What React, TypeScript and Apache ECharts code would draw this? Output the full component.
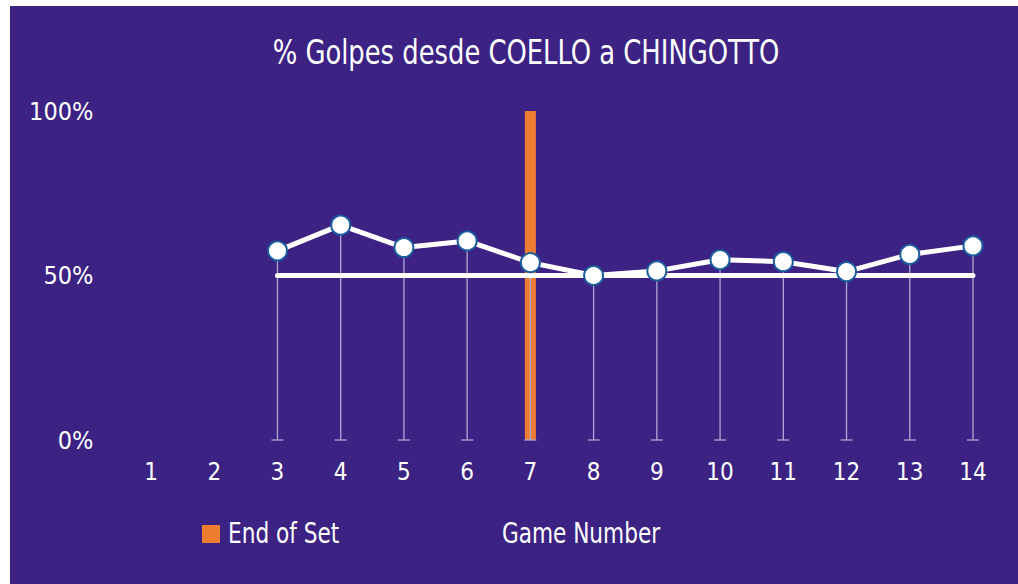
import React, { useEffect, useRef } from "react";
import * as echarts from "echarts";

const FONT = "'Liberation Sans Narrow', 'DejaVu Sans Condensed', 'Liberation Sans', sans-serif";

const games = ["1", "2", "3", "4", "5", "6", "7", "8", "9", "10", "11", "12", "13", "14"];
const pctCoelloToChingotto: (number | string)[] = ["-", "-", 57.5, 65.3, 58.5, 60.5, 53.9, 50.0, 51.4, 54.8, 54.2, 51.2, 56.4, 59.0];
const referenceLine: (number | string)[] = ["-", "-", 50, 50, 50, 50, 50, 50, 50, 50, 50, 50, 50, 50];
const endOfSet: (number | string)[] = ["-", "-", "-", "-", "-", "-", 100, "-", "-", "-", "-", "-", "-", "-"];
const yTicks = [0, 50, 100];

export default function App() {
  const ref = useRef<HTMLDivElement>(null);
  useEffect(() => {
    if (!ref.current) return;
    const chart = echarts.init(ref.current, undefined, { renderer: "svg" });
    const dropData = pctCoelloToChingotto
      .map((v, i) => (typeof v === "number" ? [i, v] : null))
      .filter((d) => d !== null);
    chart.setOption({
      animation: false,
      backgroundColor: "#3b2283",
      textStyle: { fontFamily: FONT },
      grid: { left: 109.4, right: 13.4, top: 105, bottom: 144, containLabel: false },
      graphic: [
        {
          type: "text",
          x: 516,
          y: 46,
          scaleX: 0.87,
          style: {
            text: "% Golpes desde COELLO a CHINGOTTO",
            fill: "#ffffff",
            fontSize: 33,
            fontFamily: FONT,
            align: "center",
            verticalAlign: "middle",
          },
        },
        {
          type: "text",
          x: 571,
          y: 527,
          scaleX: 0.83,
          style: {
            text: "Game Number",
            fill: "#ffffff",
            fontSize: 29,
            fontFamily: FONT,
            align: "center",
            verticalAlign: "middle",
          },
        },
        {
          type: "rect",
          shape: { x: 192, y: 519, width: 18, height: 18 },
          style: { fill: "#ed7d31" },
        },
        {
          type: "text",
          x: 218,
          y: 527,
          scaleX: 0.83,
          style: {
            text: "End of Set",
            fill: "#ffffff",
            fontSize: 29,
            fontFamily: FONT,
            align: "left",
            verticalAlign: "middle",
          },
        },
      ],
      xAxis: {
        type: "category",
        data: games,
        boundaryGap: true,
        axisLine: { show: false },
        axisTick: { show: false },
        splitLine: { show: false },
        axisLabel: { color: "#ffffff", fontSize: 24, fontFamily: FONT, margin: 20 },
      },
      yAxis: {
        type: "value",
        min: yTicks[0],
        max: yTicks[yTicks.length - 1],
        interval: 50,
        axisLine: { show: false },
        axisTick: { show: false },
        splitLine: { show: false },
        axisLabel: {
          color: "#ffffff",
          fontSize: 25,
          fontFamily: FONT,
          margin: 26,
          formatter: (v: number) => v + "%",
        },
      },
      series: [
        {
          name: "End of Set",
          type: "bar",
          data: endOfSet,
          barWidth: 11,
          itemStyle: { color: "#ed7d31" },
          z: 1,
        },
        {
          name: "drop",
          type: "custom",
          data: dropData,
          z: 2,
          renderItem: (params: any, api: any) => {
            const top = api.coord([api.value(0), api.value(1)]);
            const bot = api.coord([api.value(0), 0]);
            const st = { stroke: "#b0a8d6", lineWidth: 1.3 };
            return {
              type: "group",
              children: [
                { type: "line", shape: { x1: top[0], y1: top[1], x2: bot[0], y2: bot[1] }, style: st },
                { type: "line", shape: { x1: bot[0] - 6, y1: bot[1], x2: bot[0] + 6, y2: bot[1] }, style: st },
              ],
            };
          },
        },
        {
          name: "50%",
          type: "line",
          data: referenceLine,
          showSymbol: false,
          symbol: "none",
          lineStyle: { color: "#ffffff", width: 5, cap: "round" },
          z: 3,
        },
        {
          name: "% Golpes",
          type: "line",
          data: pctCoelloToChingotto,
          symbol: "circle",
          symbolSize: 19,
          lineStyle: { color: "#ffffff", width: 5 },
          itemStyle: { color: "#ffffff", borderColor: "#1b5c9e", borderWidth: 2 },
          z: 4,
        },
      ],
    });
    return () => chart.dispose();
  }, []);
  return (
    <div
      ref={ref}
      style={{ position: "absolute", left: 10, top: 6, width: 1008, height: 578 }}
    />
  );
}
